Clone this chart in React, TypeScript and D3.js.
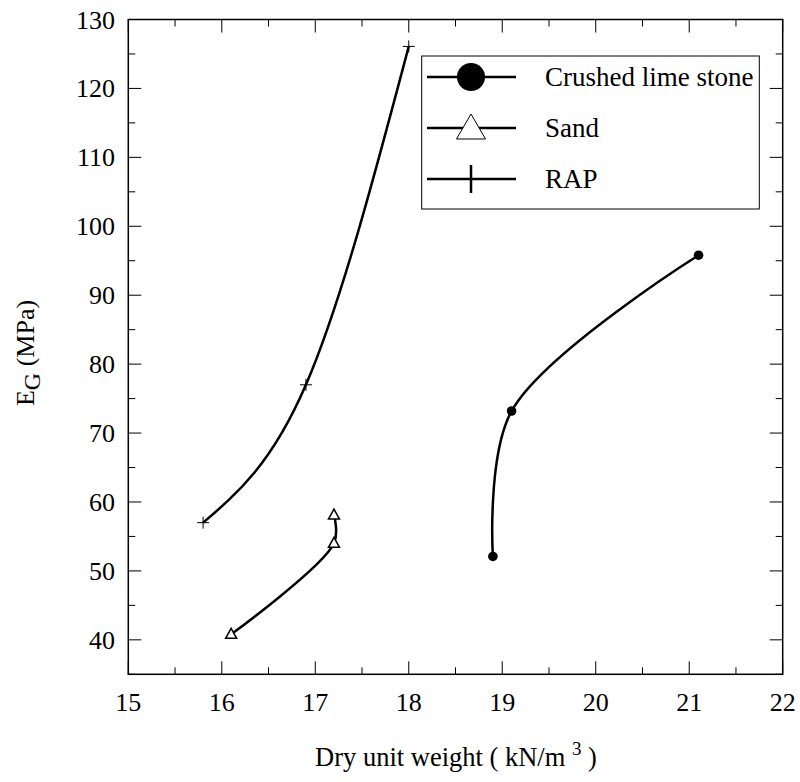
import React from "react";
import * as d3 from "d3";

const limeX = [18.9, 19.1, 21.1];
const limeY = [52.1, 73.2, 95.8];
const sandX = [16.1, 17.2, 17.2];
const sandY = [40.8, 54.0, 58.1];
const rapX = [15.8, 16.9, 18.0];
const rapY = [57.0, 77.0, 126.1];
const xTicks = [15, 16, 17, 18, 19, 20, 21, 22];
const yTicks = [40, 50, 60, 70, 80, 90, 100, 110, 120, 130];
const legendLabels = ["Crushed lime stone", "Sand", "RAP"];

const W = 800, H = 782;
const L = 128.3, R = 782.7, T = 19.5, B = 674.3;
const FF = "Liberation Serif";

export default function App() {
  const x = d3.scaleLinear().domain([15, 22]).range([L, R]);
  const y = d3.scaleLinear().domain([35, 130]).range([B, T]);
  const mk = (curve: d3.CurveFactory) =>
    d3
      .line<[number, number]>()
      .x((d) => x(d[0]))
      .y((d) => y(d[1]))
      .curve(curve);
  const cr = mk(d3.curveCatmullRom.alpha(0.5));
  const nat = mk(d3.curveNatural);

  const pts = (xs: number[], ys: number[]) => xs.map((v, i) => [v, ys[i]] as [number, number]);
  const lime = pts(limeX, limeY);
  const sand = pts(sandX, sandY);
  const rap = pts(rapX, rapY);

  const xMinor = d3.range(15, 22.01, 0.5);
  const yMinor = d3.range(35, 130.01, 5);

  const tri = (cx: number, cy: number, w: number, h: number) =>
    `M${cx},${cy - h * 0.6}L${cx + w / 2},${cy + h * 0.4}L${cx - w / 2},${cy + h * 0.4}Z`;

  const legX1 = 427, legX2 = 516, legMX = 471, legTX = 545;
  const legRows = [77, 128, 179];
  const ts = { fontFamily: `"${FF}"` };

  return (
    <svg width={W} height={H} fontFamily={FF} style={{ position: "absolute", left: 0, top: 0 }}>
      <rect width={W} height={H} fill="white" />
      <g stroke="black" strokeWidth={1}>
        {xMinor.map((v, i) => {
          const major = Math.abs(v - Math.round(v)) < 1e-6;
          const len = major ? 13 : 7;
          return (
            <g key={"xt" + i}>
              <line x1={x(v)} x2={x(v)} y1={B} y2={B - len} />
              <line x1={x(v)} x2={x(v)} y1={T} y2={T + len} />
            </g>
          );
        })}
        {yMinor.map((v, i) => {
          const major = Math.abs(v % 10) < 1e-6;
          const len = major ? 13 : 7;
          return (
            <g key={"yt" + i}>
              <line x1={L} x2={L + len} y1={y(v)} y2={y(v)} />
              <line x1={R} x2={R - len} y1={y(v)} y2={y(v)} />
            </g>
          );
        })}
      </g>
      <rect x={L} y={T} width={R - L} height={B - T} fill="none" stroke="black" strokeWidth={1.5} />
      {xTicks.map((v) => (
        <text key={"xl" + v} x={x(v)} y={711} textAnchor="middle" fontSize={26} style={ts}>
          {v}
        </text>
      ))}
      {yTicks.map((v) => (
        <text key={"yl" + v} x={115} y={y(v) + 9} textAnchor="end" fontSize={26} style={ts}>
          {v}
        </text>
      ))}
      <text x={456} y={766} textAnchor="middle" fontSize={26.5} style={ts}>
        Dry unit weight ( kN/m <tspan fontSize={19} dy={-11}>3</tspan>
        <tspan dy={11}> )</tspan>
      </text>
      <text transform="translate(34,353) rotate(-90)" textAnchor="middle" fontSize={26} style={ts}>
        E<tspan fontSize={24} dy={6}>G</tspan>
        <tspan dy={-6}> (MPa)</tspan>
      </text>
      <g fill="none" stroke="black" strokeWidth={2.5}>
        <path d={cr(lime) || ""} />
        <path d={cr(sand) || ""} />
        <path d={nat(rap) || ""} />
      </g>
      {lime.map((d, i) => (
        <circle key={"lm" + i} cx={x(d[0])} cy={y(d[1])} r={4.8} fill="black" />
      ))}
      {sand.map((d, i) => (
        <path key={"sm" + i} d={tri(x(d[0]), y(d[1]), 11, 10)} fill="white" stroke="black" strokeWidth={1.5} />
      ))}
      {rap.map((d, i) => (
        <g key={"rm" + i} stroke="black" strokeWidth={1}>
          <line x1={x(d[0]) - 6} x2={x(d[0]) + 6} y1={y(d[1])} y2={y(d[1])} />
          <line x1={x(d[0])} x2={x(d[0])} y1={y(d[1]) - 6} y2={y(d[1]) + 6} />
        </g>
      ))}
      <rect x={421.7} y={56} width={337.6} height={153} fill="white" stroke="black" strokeWidth={1} />
      {legRows.map((ry, i) => (
        <g key={"lg" + i}>
          <line x1={legX1} x2={legX2} y1={ry} y2={ry} stroke="black" strokeWidth={2.5} />
          {i === 0 && <circle cx={legMX} cy={ry} r={14} fill="black" />}
          {i === 1 && <path d={tri(legMX, ry + 1, 29, 25)} fill="white" stroke="black" strokeWidth={1} />}
          {i === 2 && <line x1={legMX} x2={legMX} y1={ry - 14} y2={ry + 14} stroke="black" strokeWidth={2.5} />}
          <text x={legTX} y={ry + 9} fontSize={27} style={ts}>
            {legendLabels[i]}
          </text>
        </g>
      ))}
    </svg>
  );
}
